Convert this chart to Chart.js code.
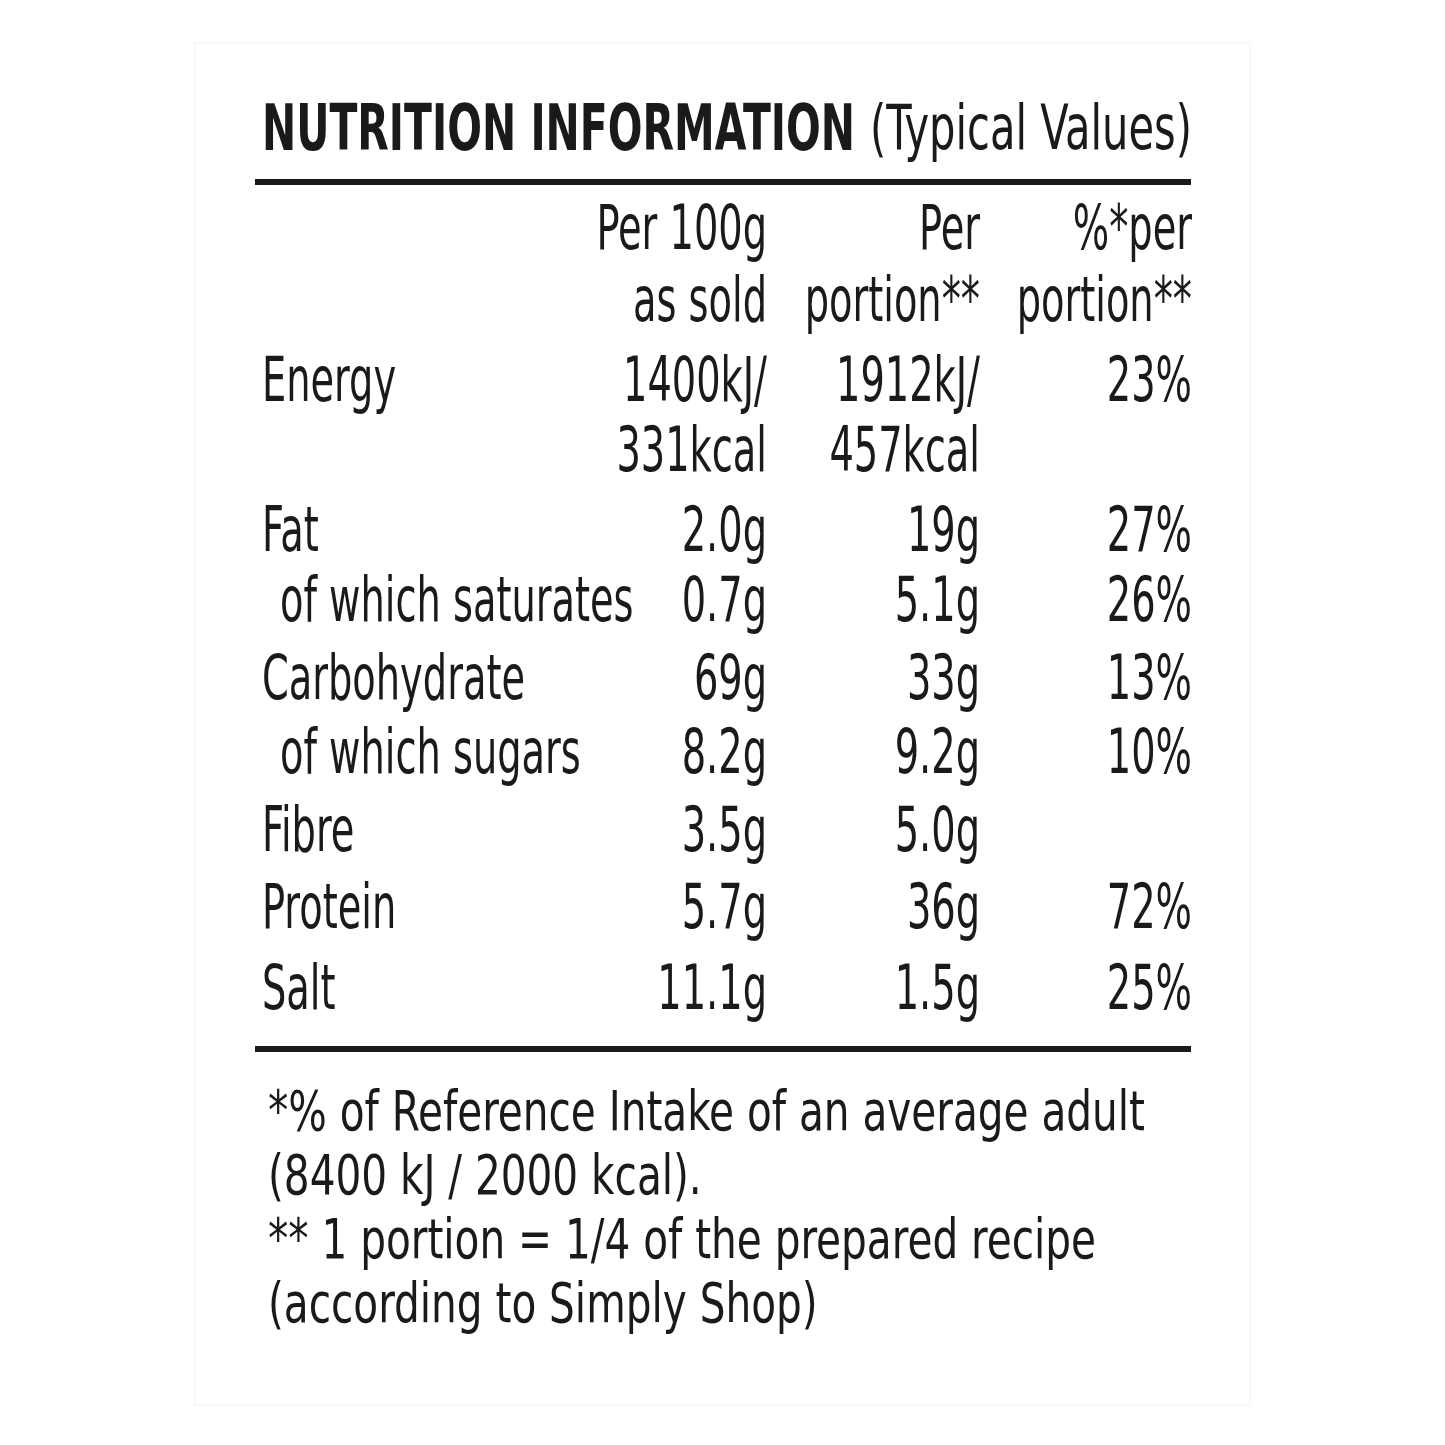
<!DOCTYPE html>
<html><head><meta charset="utf-8">
<script src="https://cdn.jsdelivr.net/npm/chart.js@4.4.0/dist/chart.umd.min.js"></script>
<style>html,body{margin:0;padding:0;background:#fff}#wrap{width:1445px;height:1445px}</style>
</head><body><div id="wrap"><canvas id="c"></canvas></div>
<script>
const title = "NUTRITION INFORMATION";
const subtitle = "(Typical Values)";
const headers = [["Per 100g","as sold"],["Per","portion**"],["%*per","portion**"]];
const nutrients = ["Energy","Fat","of which saturates","Carbohydrate","of which sugars","Fibre","Protein","Salt"];
const indented = [false,false,true,false,true,false,false,false];
const per100g = [["1400kJ/","331kcal"],["2.0g"],["0.7g"],["69g"],["8.2g"],["3.5g"],["5.7g"],["11.1g"]];
const perPortion = [["1912kJ/","457kcal"],["19g"],["5.1g"],["33g"],["9.2g"],["5.0g"],["36g"],["1.5g"]];
const riPercent = [["23%"],["27%"],["26%"],["13%"],["10%"],[""],["72%"],["25%"]];
const footnotes = ["*% of Reference Intake of an average adult","(8400 kJ / 2000 kcal).","** 1 portion = 1/4 of the prepared recipe","(according to Simply Shop)"];

const FONT = "'Liberation Sans Narrow','DejaVu Sans Condensed','Liberation Sans',sans-serif";
const rowY = [385,535,605,683,757,835,912,993];
const colR = [767,980,1192];

const tablePlugin = {
  id:'table',
  afterDraw(chart){
    const ctx = chart.ctx, xs = chart.scales.x, ys = chart.scales.y;
    const X = v=>xs.getPixelForValue(v), Y = v=>ys.getPixelForValue(v);
    function txt(s, x, y, font, sx, align){
      ctx.save(); ctx.font = font; ctx.fillStyle='#1a1a1a'; ctx.textBaseline='middle';
      ctx.translate(X(x), Y(y)); ctx.scale(sx,1);
      const w = ctx.measureText(s).width;
      ctx.fillText(s, align==='right'? -w : 0, 0); ctx.restore();
    }
    function scaleFor(s, font, target){ ctx.save(); ctx.font=font; const w=ctx.measureText(s).width; ctx.restore(); return target/w; }
    // card
    ctx.save(); ctx.strokeStyle='#f0f0f0'; ctx.lineWidth=1; ctx.strokeRect(X(195),Y(43),X(1250)-X(195),Y(1405)-Y(43)); ctx.restore();
    const tf = "bold 64px "+FONT, sf = "500 62px "+FONT, bf = "62px "+FONT, ff = "56px "+FONT;
    const ts = scaleFor(title, tf, 593);
    txt(title, 262, 133, tf, ts, 'left');
    const ss = scaleFor(subtitle, sf, 322);
    txt(subtitle, 870, 133, sf, ss, 'left');
    // rules
    ctx.save(); ctx.fillStyle='#1a1a1a';
    ctx.fillRect(X(255),Y(179),X(1191)-X(255),6);
    ctx.fillRect(X(255),Y(1046),X(1191)-X(255),6);
    ctx.restore();
    const bs = scaleFor("Carbohydrate", bf, 263);
    headers.forEach((h,i)=>{ txt(h[0], colR[i], 233, bf, bs, 'right'); txt(h[1], colR[i], 305, bf, bs, 'right'); });
    nutrients.forEach((n,i)=>{
      txt(n, indented[i]?280:262, rowY[i], bf, bs, 'left');
      [per100g,perPortion,riPercent].forEach((col,c)=>{
        col[i].forEach((s,k)=>{ if(s) txt(s, colR[c], rowY[i]+k*70, bf, bs, 'right'); });
      });
    });
    const fs = scaleFor(footnotes[0], ff, 877);
    footnotes.forEach((s,i)=> txt(s, 268, 1115+i*64, ff, fs, 'left'));
  }
};

new Chart(document.getElementById('c'), {
  type:'scatter',
  data:{datasets:[{data:[],pointRadius:0}]},
  options:{
    responsive:true, maintainAspectRatio:false, animation:false,
    layout:{padding:0},
    plugins:{legend:{display:false},tooltip:{enabled:false}},
    scales:{
      x:{type:'linear',min:0,max:1445,display:false},
      y:{type:'linear',min:0,max:1445,reverse:true,display:false}
    }
  },
  plugins:[tablePlugin]
});
</script></body></html>
